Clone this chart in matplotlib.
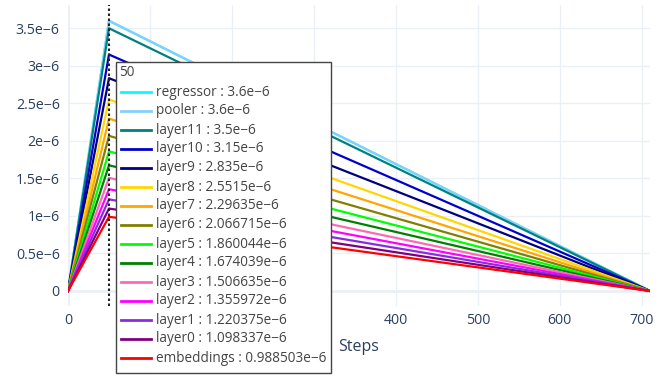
import matplotlib
matplotlib.use("Agg")
import matplotlib.pyplot as plt
from matplotlib.lines import Line2D
from matplotlib.patches import Rectangle

plt.rcParams['font.family'] = ['Open Sans', 'DejaVu Sans']

# Data
steps = [0, 50, 710]
names = ["regressor", "pooler", "layer11", "layer10", "layer9", "layer8", "layer7",
         "layer6", "layer5", "layer4", "layer3", "layer2", "layer1", "layer0", "embeddings"]
peak_lr = [3.6e-6, 3.6e-6, 3.5e-6, 3.15e-6, 2.835e-6, 2.5515e-6, 2.29635e-6,
           2.066715e-6, 1.860044e-6, 1.674039e-6, 1.506635e-6, 1.355972e-6,
           1.220375e-6, 1.098337e-6, 0.988503e-6]
peak_labels = ["3.6e−6", "3.6e−6", "3.5e−6", "3.15e−6", "2.835e−6", "2.5515e−6",
               "2.29635e−6", "2.066715e−6", "1.860044e−6", "1.674039e−6",
               "1.506635e−6", "1.355972e−6", "1.220375e−6", "1.098337e−6",
               "0.988503e−6"]
colors = ["#00FFFF", "#87CEFA", "#008080", "#0000CD", "#000080", "#FFD700", "#FFA500",
          "#808000", "#00FF00", "#008000", "#FF69B4", "#FF00FF", "#8A2BE2", "#800080",
          "#FF0000"]
xticks = [0, 100, 200, 300, 400, 500, 600, 700]
# labels for 100-300 are hidden behind the hover box in the reference
xtick_labels = ["0", "", "", "", "400", "500", "600", "700"]
yticks = [0, 0.5e-6, 1e-6, 1.5e-6, 2e-6, 2.5e-6, 3e-6, 3.5e-6]
ytick_labels = ["0", "0.5e−6", "1e−6", "1.5e−6", "2e−6", "2.5e−6", "3e−6", "3.5e−6"]
hover_step = 50

W, H = 662, 385
fig = plt.figure(figsize=(W / 100, H / 100), dpi=100)
ax = fig.add_axes([68 / W, 1 - 306 / H, (650 - 68) / W, (306 - 5) / H])

grid_c = "#EBF0F8"
text_c = "#2a3f5f"

for n, p, c in zip(names, peak_lr, colors):
    ax.plot(steps, [0, p, 0], color=c, lw=1.6, solid_joinstyle="round", zorder=3)

ax.set_xlim(0, 710)
ax.set_ylim(-0.2e-6, 3.81e-6)
ax.set_xticks(xticks)
ax.set_xticklabels(xtick_labels)
ax.set_yticks(yticks)
ax.set_yticklabels(ytick_labels)
ax.tick_params(length=0, labelsize=10.2, colors=text_c, pad=6)
ax.tick_params(axis="x", pad=5)
ax.grid(True, color=grid_c, lw=1)
ax.axhline(0, color=grid_c, lw=2, zorder=1)
ax.axvline(0, color=grid_c, lw=2, zorder=1)
for s in ax.spines.values():
    s.set_visible(False)
ax.set_axisbelow(True)
ax.set_xlabel("Steps", fontsize=11.5, color=text_c, labelpad=8)

# hover spike line
ax.axvline(hover_step, color="#222222", lw=1.5, ls=(0, (1.2, 1.2)), zorder=5)

# hover tooltip (figure pixel coordinates)
def fx(px):
    return px / W

def fy(py):
    return 1 - py / H

box = Rectangle((fx(116), fy(373)), (331 - 116) / W, (373 - 62) / H,
                transform=fig.transFigure, facecolor="white", edgecolor="#444444",
                lw=1, zorder=10)
fig.patches.append(box)
fig.text(fx(119), fy(73), str(hover_step), fontsize=9.8, color="#444444",
         va="center", ha="left", zorder=11)
for i, (n, lab, c) in enumerate(zip(names, peak_labels, colors)):
    y = 92 + i * 19
    fig.add_artist(Line2D([fx(121), fx(151)], [fy(y), fy(y)], transform=fig.transFigure,
                          color=c, lw=2, zorder=11))
    fig.text(fx(156), fy(y), f"{n} : {lab}", fontsize=9.8, color="#444444",
             va="center", ha="left", zorder=11)

fig.savefig("out.png", dpi=100)
